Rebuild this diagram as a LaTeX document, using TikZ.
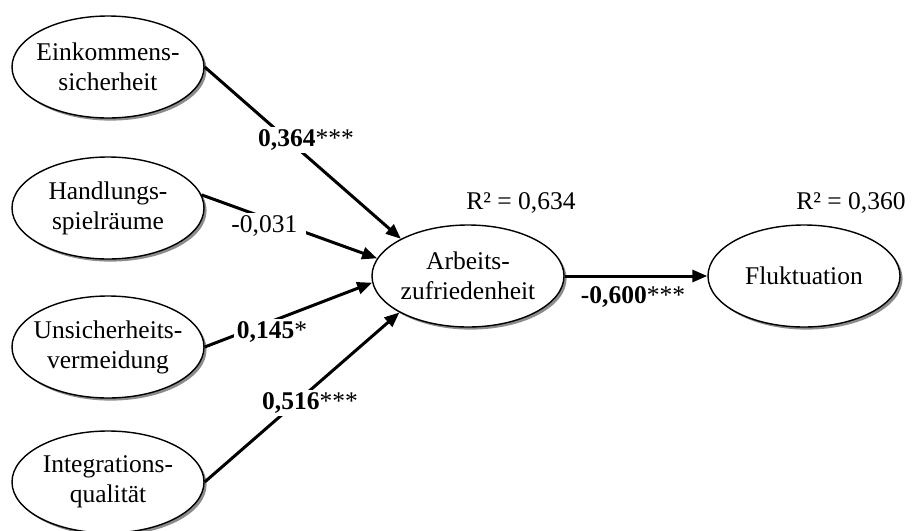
\documentclass[tikz,border=0pt]{standalone}
\usepackage{fontspec}
\setmainfont{Liberation Serif}
\usetikzlibrary{arrows.meta,shapes.geometric,shadows}
\begin{document}
\begin{tikzpicture}[x=0.5pt,y=-0.5pt,
  lv/.style={ellipse, draw, line width=0.7pt, fill=white, minimum width=96pt, minimum height=51pt, inner sep=0pt,
    drop shadow={shadow xshift=1.3pt, shadow yshift=-1.3pt, fill=black!45, opacity=1}},
  lvtext/.style={align=center, inner sep=0pt, font=\fontsize{12.75}{15}\selectfont},
  arr/.style={line width=1.5pt, -{Triangle[length=7.5pt,width=6pt]}},
  coef/.style={fill=white, inner sep=1.5pt, font=\fontsize{12.75}{15}\selectfont},
  txt/.style={inner sep=1pt, font=\fontsize{12.75}{15}\selectfont}
]
\useasboundingbox (0,0) rectangle (912,531);
\node[lv, label={[lvtext]center:Einkommens-\\sicherheit}] (eink) at (108,67) {};
\node[lv, label={[lvtext]center:Handlungs-\\spielräume}] (hand) at (108,208) {};
\node[lv, label={[lvtext]center:Unsicherheits-\\vermeidung}] (unsi) at (108,347) {};
\node[lv, label={[lvtext]center:Integrations-\\qualität}] (inte) at (108,482) {};
\node[lv, label={[lvtext]center:Arbeits-\\zufriedenheit}] (arb) at (468,276) {};
\node[lv, label={[lvtext]center:Fluktuation}] (flu) at (804,276) {};

\draw[arr] (eink.east) -- (arb.151);
\draw[arr] (hand.8) -- (arb.169);
\draw[arr] (unsi.east) -- (arb.184);
\draw[arr] (inte.east) -- (arb.208);
\draw[arr] (arb.east) -- (flu.west);

\node[coef] (c1) at (306,140) {\textbf{0,364}***};
\node[coef, anchor=west, text width=36pt, align=left] (c2) at (228,226) {-0,031};
\node[coef] (c3) at (272,332) {\textbf{0,145}*};
\node[coef] (c4) at (310,403) {\textbf{0,516}***};
\node[txt] (c5) at (633,297) {\textbf{-0,600}***};
\node[txt] (r1) at (521,203) {R² = 0,634};
\node[txt] (r2) at (851,203) {R² = 0,360};
\end{tikzpicture}
\end{document}
